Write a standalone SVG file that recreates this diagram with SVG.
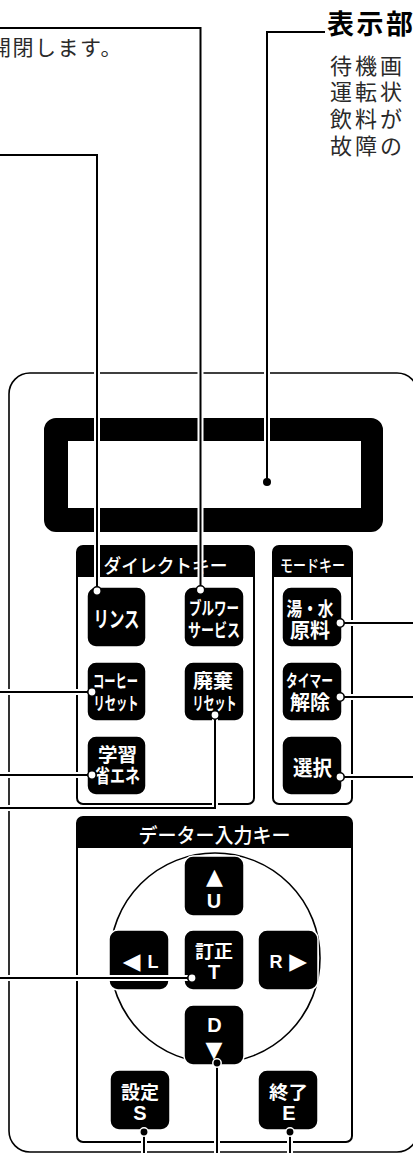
<svg xmlns="http://www.w3.org/2000/svg" width="413" height="1153" viewBox="0 0 413 1153">
<style>
.ln{fill:none;stroke:#000;stroke-width:2}
.halo{fill:none;stroke:#fff;stroke-width:6}
.btn{fill:#000;stroke:#fff;stroke-width:1.5}
.bt{fill:#fff;font-family:"Liberation Sans","Noto Sans CJK JP",sans-serif;font-weight:bold;text-anchor:middle}
.bl{fill:#fff;font-family:"Liberation Sans",Arial,sans-serif;font-weight:bold;text-anchor:middle}
.sym{fill:#fff;font-family:"DejaVu Sans",sans-serif;font-weight:normal;text-anchor:middle}
.panel{fill:none;stroke:#000;stroke-width:2}
.hdr{fill:#000}
.ht{fill:#fff;font-family:"Liberation Sans","Noto Sans CJK JP",sans-serif;font-weight:500;text-anchor:middle}
.desc{font-family:"Liberation Sans","Noto Sans CJK JP",sans-serif;fill:#2a2a2a}
.hol{fill:#fff;stroke:#000;stroke-width:1.6}
.dot{fill:#000;stroke:#fff;stroke-width:1.5}
</style>

<g id="body">
  <rect x="9" y="373" width="409" height="779" rx="21" fill="#fff" stroke="#000" stroke-width="1.6"/>
</g>

<g id="display">
  <path d="M56,418 H371 A12,12 0 0 1 383,430 V520 A12,12 0 0 1 371,532 H56 A12,12 0 0 1 44,520 V430 A12,12 0 0 1 56,418 Z M68,441 V508 H361 V441 Z" fill="#000" fill-rule="evenodd"/>
</g>

<g id="label-top-left">
  <text class="desc" x="-10" y="55" font-size="21" letter-spacing="1.5">開閉します。</text>
</g>

<g id="label-display">
  <text x="327" y="34" font-family="Liberation Sans, Noto Sans CJK JP, sans-serif" font-weight="bold" font-size="27" letter-spacing="2.5" fill="#000">表示部</text>
  <text class="desc" x="330" y="74" font-size="22" letter-spacing="3">待機画</text>
  <text class="desc" x="330" y="100" font-size="22" letter-spacing="3">運転状</text>
  <text class="desc" x="330" y="127" font-size="22" letter-spacing="3">飲料が</text>
  <text class="desc" x="330" y="154" font-size="22" letter-spacing="3">故障の</text>
</g>

<g id="panel-direct">
  <rect class="panel" x="77" y="546" width="177" height="258" rx="6"/>
  <path class="hdr" d="M77,577 V552 A6,6 0 0 1 83,546 H248 A6,6 0 0 1 254,552 V577 Z"/>
  <text class="ht" x="165.5" y="573" font-size="19" textLength="124" lengthAdjust="spacingAndGlyphs">ダイレクトキー</text>
</g>

<g id="panel-mode">
  <rect class="panel" x="273" y="546" width="79" height="258" rx="6"/>
  <path class="hdr" d="M273,577 V552 A6,6 0 0 1 279,546 H346 A6,6 0 0 1 352,552 V577 Z"/>
  <text class="ht" x="312.5" y="572" font-size="17" textLength="65" lengthAdjust="spacingAndGlyphs">モードキー</text>
</g>

<g id="panel-data">
  <rect class="panel" x="77" y="817" width="275" height="325" rx="6"/>
  <path class="hdr" d="M77,848 V823 A6,6 0 0 1 83,817 H346 A6,6 0 0 1 352,823 V848 Z"/>
  <text class="ht" x="214.5" y="843" font-size="20" textLength="152" lengthAdjust="spacingAndGlyphs">データー入力キー</text>
  <circle cx="215" cy="958" r="105" fill="none" stroke="#000" stroke-width="1.6"/>
</g>

<g id="btn-rinse">
  <rect class="btn" x="87" y="587" width="59" height="60" rx="9"/>
  <text class="bt" x="116.5" y="627" font-size="22" textLength="46" lengthAdjust="spacingAndGlyphs">リンス</text>
</g>
<g id="btn-brewer">
  <rect class="btn" x="184" y="587" width="60" height="60" rx="9"/>
  <text class="bt" x="214" y="615" font-size="18" textLength="50" lengthAdjust="spacingAndGlyphs">ブルワー</text>
  <text class="bt" x="214" y="637" font-size="18" textLength="52" lengthAdjust="spacingAndGlyphs">サービス</text>
</g>
<g id="btn-yu">
  <rect class="btn" x="282" y="587" width="60" height="60" rx="9"/>
  <text class="bt" x="310" y="616" font-size="19" textLength="47" lengthAdjust="spacingAndGlyphs">湯・水</text>
  <text class="bt" x="310" y="638" font-size="20" textLength="40" lengthAdjust="spacingAndGlyphs">原料</text>
</g>
<g id="btn-coffee">
  <rect class="btn" x="87" y="662" width="59" height="59" rx="9"/>
  <text class="bt" x="115.5" y="688" font-size="18" textLength="45" lengthAdjust="spacingAndGlyphs">コーヒー</text>
  <text class="bt" x="116" y="710" font-size="18" textLength="45" lengthAdjust="spacingAndGlyphs">リセット</text>
</g>
<g id="btn-haiki">
  <rect class="btn" x="184" y="662" width="60" height="59" rx="9"/>
  <text class="bt" x="213" y="688" font-size="19" textLength="40" lengthAdjust="spacingAndGlyphs">廃棄</text>
  <text class="bt" x="214.5" y="710" font-size="18" textLength="44" lengthAdjust="spacingAndGlyphs">リセット</text>
</g>
<g id="btn-timer">
  <rect class="btn" x="282" y="662" width="60" height="59" rx="9"/>
  <text class="bt" x="309.5" y="687" font-size="17" textLength="47" lengthAdjust="spacingAndGlyphs">タイマー</text>
  <text class="bt" x="310" y="710" font-size="20" textLength="40" lengthAdjust="spacingAndGlyphs">解除</text>
</g>
<g id="btn-gakushu">
  <rect class="btn" x="87" y="736" width="59" height="59" rx="9"/>
  <text class="bt" x="117.5" y="762" font-size="19" textLength="39" lengthAdjust="spacingAndGlyphs">学習</text>
  <text class="bt" x="117.5" y="783" font-size="19" textLength="45" lengthAdjust="spacingAndGlyphs">省エネ</text>
</g>
<g id="btn-sentaku">
  <rect class="btn" x="282" y="736" width="60" height="59" rx="9"/>
  <text class="bt" x="312.5" y="775" font-size="21" textLength="39" lengthAdjust="spacingAndGlyphs">選択</text>
</g>

<g id="btn-up">
  <rect class="btn" x="184" y="856" width="60" height="60" rx="9"/>
  <text class="sym" x="214.5" y="884" font-size="22">▲</text>
  <text class="bl" x="214" y="908" font-size="20">U</text>
</g>
<g id="btn-left">
  <rect class="btn" x="109" y="930" width="60" height="60" rx="9"/>
  <text class="sym" x="131.5" y="968.5" font-size="23">◀</text>
  <text class="bl" x="153" y="968" font-size="18">L</text>
</g>
<g id="btn-teisei">
  <rect class="btn" x="184" y="930" width="60" height="60" rx="9"/>
  <text class="bt" x="214" y="958" font-size="18" textLength="38" lengthAdjust="spacingAndGlyphs">訂正</text>
  <text class="bl" x="214" y="979" font-size="20">T</text>
</g>
<g id="btn-right">
  <rect class="btn" x="258" y="930" width="60" height="60" rx="9"/>
  <text class="bl" x="276" y="968" font-size="18">R</text>
  <text class="sym" x="298" y="968.5" font-size="23">▶</text>
</g>
<g id="btn-down">
  <rect class="btn" x="184" y="1005" width="60" height="60" rx="9"/>
  <text class="bl" x="214.5" y="1032" font-size="20">D</text>
  <text class="sym" x="214" y="1057" font-size="22">▼</text>
</g>
<g id="btn-settei">
  <rect class="btn" x="110" y="1070" width="60" height="60" rx="9"/>
  <text class="bt" x="140" y="1099" font-size="18" textLength="38" lengthAdjust="spacingAndGlyphs">設定</text>
  <text class="bl" x="140" y="1120" font-size="20">S</text>
</g>
<g id="btn-shuryo">
  <rect class="btn" x="258" y="1070" width="60" height="60" rx="9"/>
  <text class="bt" x="288.5" y="1099" font-size="18" textLength="39" lengthAdjust="spacingAndGlyphs">終了</text>
  <text class="bl" x="289" y="1120" font-size="20">E</text>
</g>

<g id="connectors">
  <path class="halo" d="M0,28 H200.5 V586 M0,155 H97 V587 M325,32 H267 V482 M0,692 H88 M0,775 H88 M215,719 V808 H0 M344,623 H413 M344,697 H413 M344,777 H413 M0,978 H188 M217,1063 V1153 M144,1132 V1153 M290,1132 V1153"/>
  <path class="ln" d="M0,28 H200.5 V586 M0,155 H97 V587 M325,32 H267 V482 M0,692 H88 M0,775 H88 M215,719 V808 H0 M344,623 H413 M344,697 H413 M344,777 H413 M0,978 H188 M217,1063 V1153 M144,1132 V1153 M290,1132 V1153"/>
  <circle class="hol" cx="97" cy="591" r="4.2"/>
  <circle class="hol" cx="200.5" cy="590" r="4.2"/>
  <circle class="hol" cx="92" cy="692" r="4.2"/>
  <circle class="hol" cx="92" cy="775" r="4.2"/>
  <circle class="hol" cx="215" cy="715" r="4.2"/>
  <circle class="hol" cx="340" cy="623" r="4.2"/>
  <circle class="hol" cx="340" cy="697" r="4.2"/>
  <circle class="hol" cx="340" cy="777" r="4.2"/>
  <circle class="hol" cx="192" cy="978" r="4.2"/>
  <circle class="dot" cx="217" cy="1063" r="4.2"/>
  <circle class="dot" cx="144" cy="1132" r="4.2"/>
  <circle class="dot" cx="290" cy="1132" r="4.2"/>
  <circle cx="267" cy="482" r="4" fill="#000"/>
</g>
</svg>
